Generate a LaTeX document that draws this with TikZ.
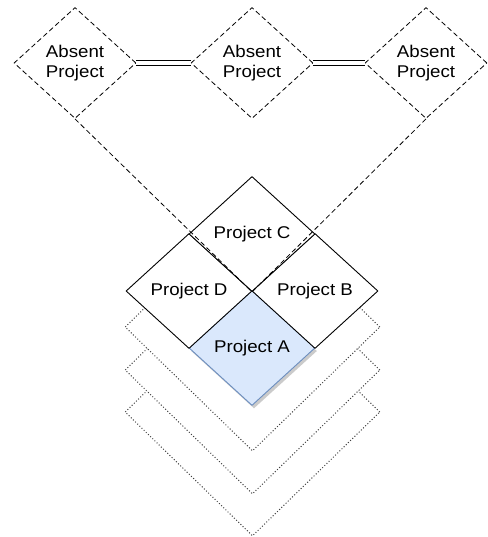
\documentclass[tikz,border=0pt]{standalone}
\usepackage{fontspec}
\setmainfont{Liberation Sans}[FakeStretch=1.1]
\usetikzlibrary{shapes.geometric,shadows}
\definecolor{projblue}{HTML}{DAE8FC}
\definecolor{projedge}{HTML}{6C8EBF}

\begin{document}
\begin{tikzpicture}[x=1pt,y=-1pt,
  absent/.style={diamond,draw,dash pattern=on 5pt off 3pt,line width=0.8pt,minimum width=122pt,minimum height=111pt,inner sep=0pt,align=center,font=\fontsize{17}{19.5}\selectfont},
  project/.style={diamond,draw,fill=white,line width=0.9pt,minimum width=126pt,minimum height=115pt,inner sep=0pt,font=\fontsize{17}{20}\selectfont},
  layer/.style={diamond,draw=black!75,dash pattern=on 1pt off 2pt,line width=1pt,fill=white,minimum width=255pt,minimum height=248pt,inner sep=0pt},
  link/.style={double,double distance=3.5pt,line width=1pt}]
\useasboundingbox (0,0) rectangle (487,537);
% older layers
\node[layer] (layer3) at (252.5,412) {};
\node[layer] (layer2) at (252.5,370) {};
\node[layer] (layer1) at (252.5,327) {};
% current projects
\node[project,fill=projblue,draw=projedge,drop shadow={shadow xshift=2pt,shadow yshift=-3pt,fill=black!40}] (projA) at (252,348) {Project A};
\node[project] (projD) at (189,291) {Project D};
\node[project] (projB) at (315,291) {Project B};
\node[project] (projC) at (252,234) {Project C};
% absent projects
\node[absent] (absent1) at (75,63) {Absent\\Project};
\node[absent] (absent2) at (252,63) {Absent\\Project};
\node[absent] (absent3) at (426,63) {Absent\\Project};
\draw[link] (absent1.east) -- (absent2.west);
\draw[link] (absent2.east) -- (absent3.west);
\draw[dash pattern=on 5pt off 3pt,line width=0.8pt] (absent1.south) -- (projC.south);
\draw[dash pattern=on 5pt off 3pt,line width=0.8pt] (absent3.south) -- (projC.south);
\end{tikzpicture}
\end{document}
